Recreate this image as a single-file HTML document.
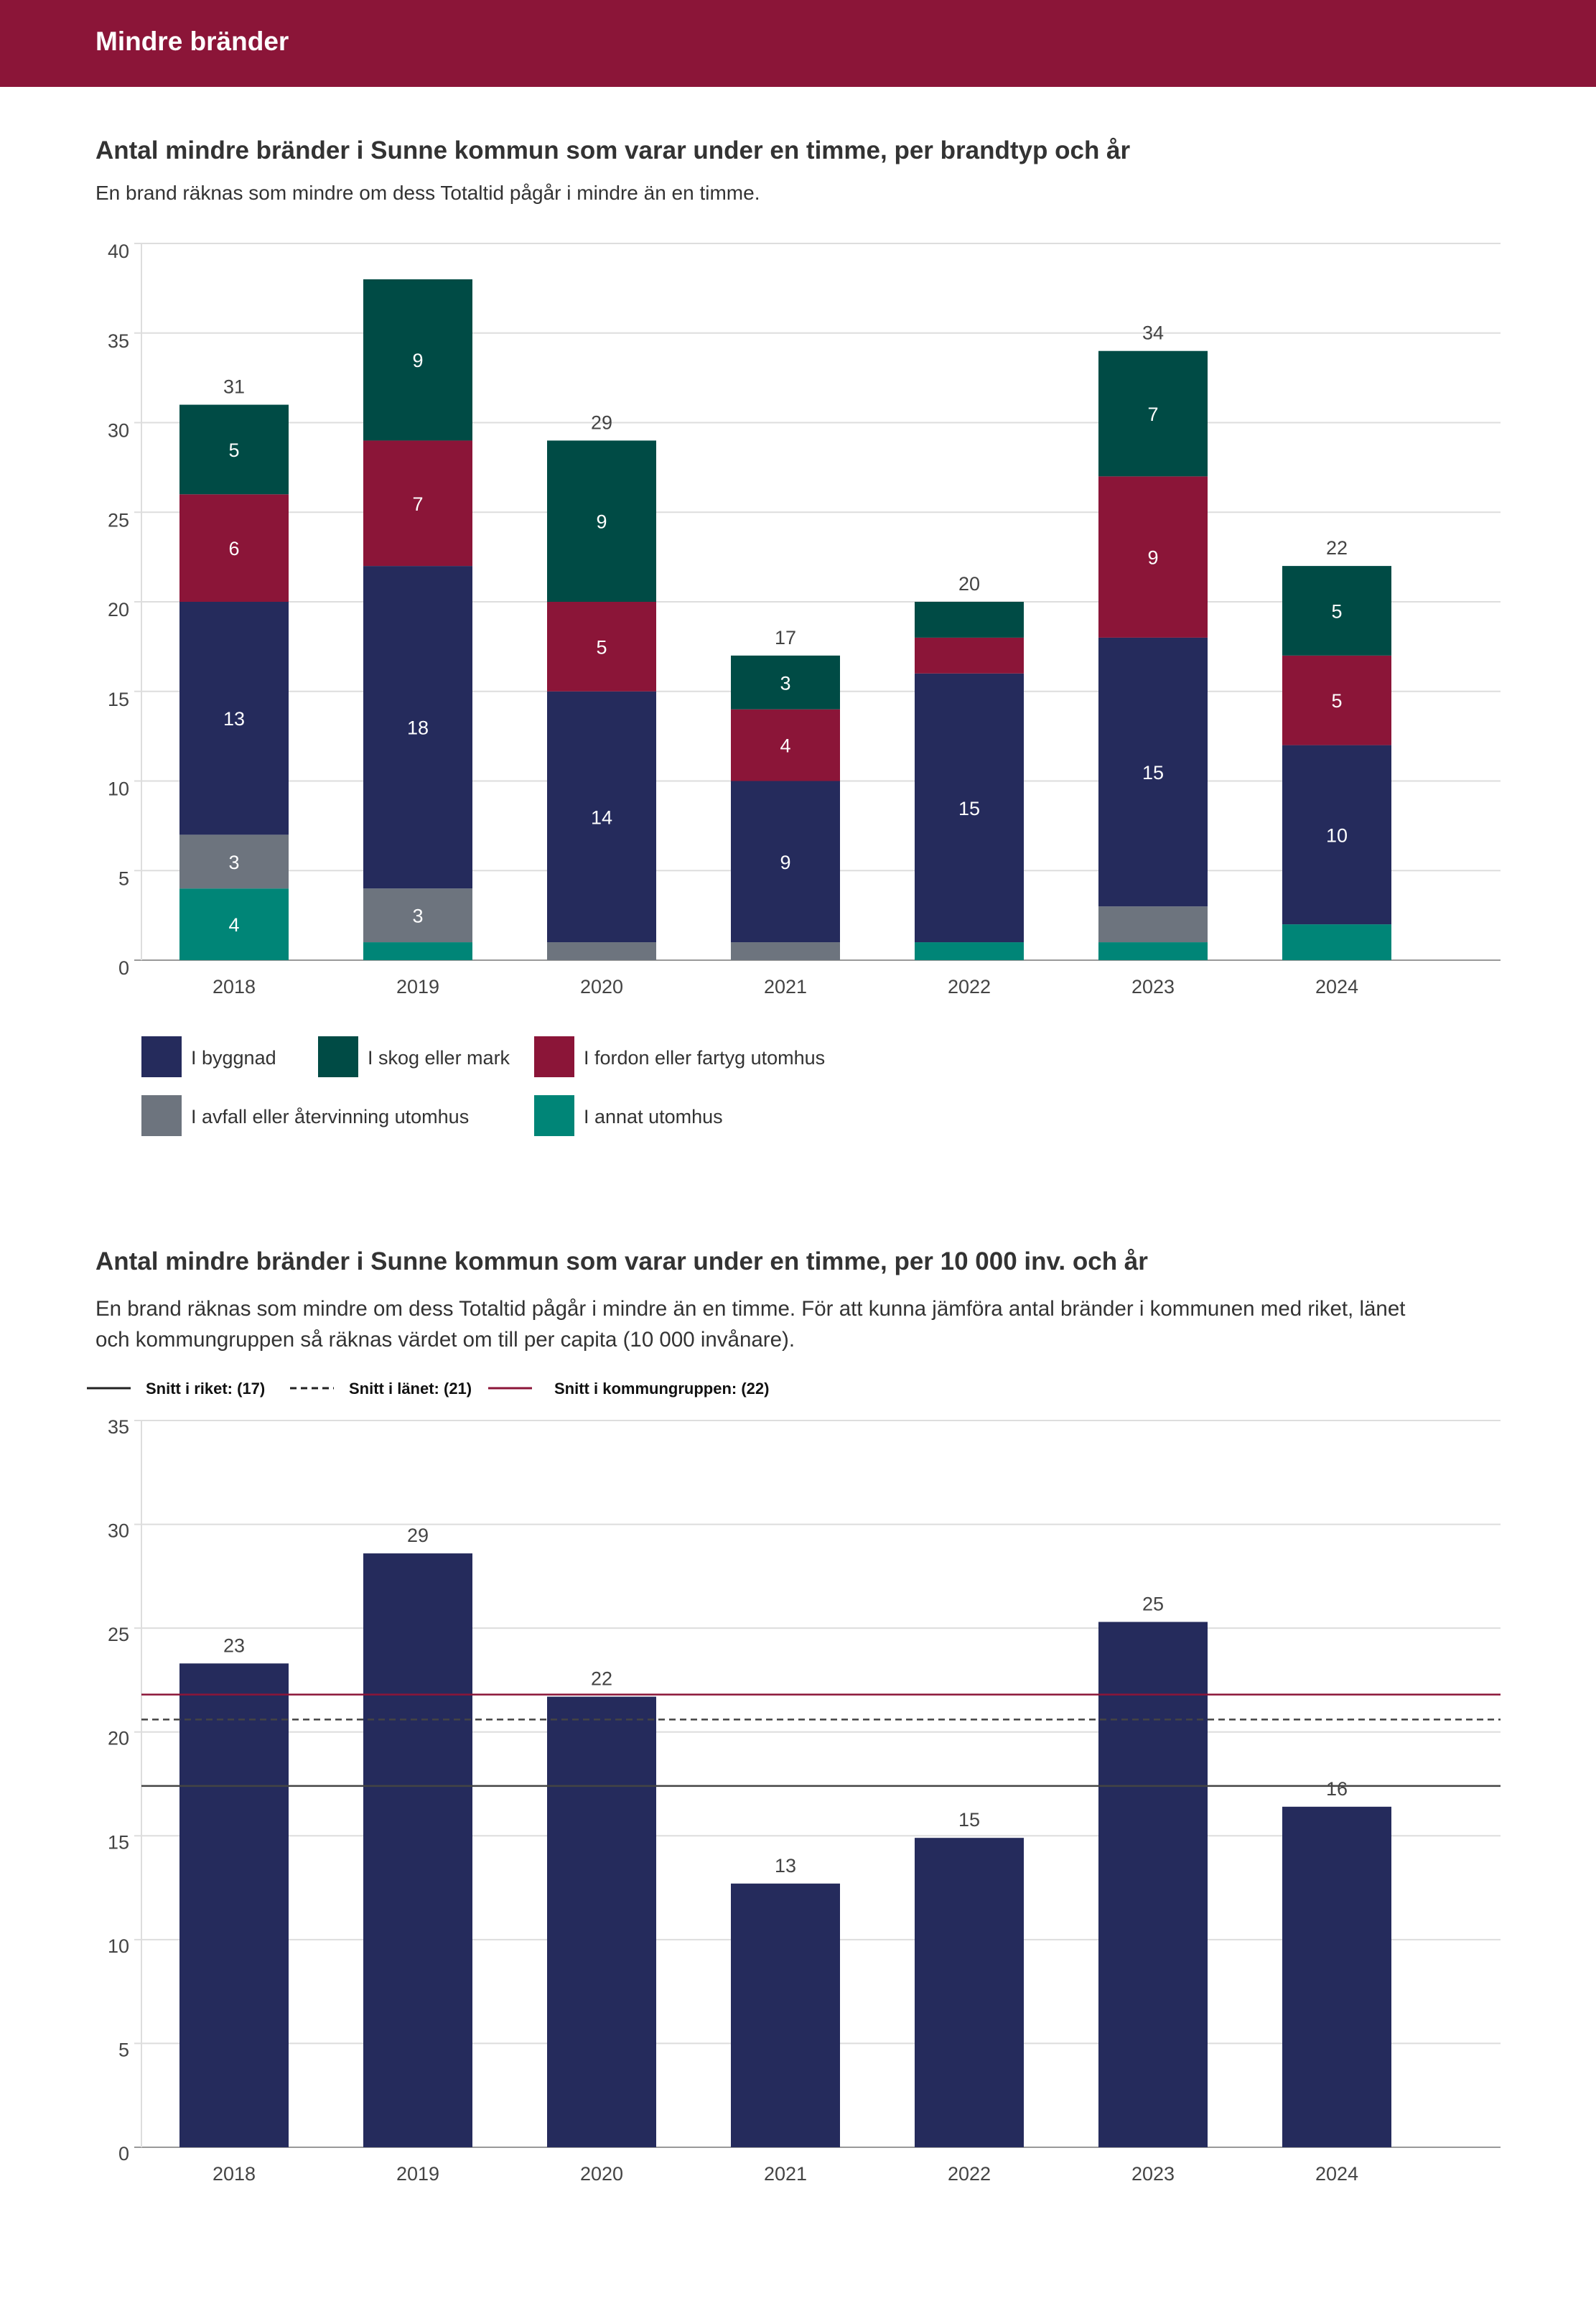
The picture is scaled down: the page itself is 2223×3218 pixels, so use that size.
<!DOCTYPE html>
<html><head><meta charset="utf-8">
<style>
html,body{margin:0;padding:0;background:#fff;}
body{width:2223px;height:3213px;overflow:hidden;font-family:"Liberation Sans",sans-serif;}
svg text{font-family:"Liberation Sans",sans-serif;}
</style></head>
<body>
<svg id="page" width="2223" height="3213" viewBox="0 0 2223 3213" xmlns="http://www.w3.org/2000/svg">
  <rect x="0" y="0" width="2223" height="121" fill="#8b1538"/>
  <text x="133" y="70" font-size="37" font-weight="bold" fill="#fff">Mindre bränder</text>

  <text x="133" y="221" font-size="35" font-weight="bold" fill="#333">Antal mindre bränder i Sunne kommun som varar under en timme, per brandtyp och år</text>
  <text x="133" y="278" font-size="28" fill="#333">En brand räknas som mindre om dess Totaltid pågår i mindre än en timme.</text>
  <g id="chart1"></g>
  <g id="legend1"></g>

  <text x="133" y="1768" font-size="35" font-weight="bold" fill="#333">Antal mindre bränder i Sunne kommun som varar under en timme, per 10 000 inv. och år</text>
  <text x="133" y="1832" font-size="29.5" fill="#333">En brand räknas som mindre om dess Totaltid pågår i mindre än en timme. För att kunna jämföra antal bränder i kommunen med riket, länet</text>
  <text x="133" y="1875" font-size="29.5" fill="#333">och kommungruppen så räknas värdet om till per capita (10 000 invånare).</text>
  <g id="legend2"></g>
  <g id="chart2"></g>
</svg>
<script>
const years = ["2018","2019","2020","2021","2022","2023","2024"];
const annat = [4,1,0,0,1,1,2];
const avfall = [3,3,1,1,0,2,0];
const byggnad = [13,18,14,9,15,15,10];
const fordon = [6,7,5,4,2,9,5];
const skog = [5,9,9,3,2,7,5];
const showTotal = [true,false,true,true,true,true,true];
const ticks1 = [0,5,10,15,20,25,30,35,40];

const perCapita = [23.3,28.6,21.7,12.7,14.9,25.3,16.4];
const perCapitaLabels = ["23","29","22","13","15","25","16"];
const ticks2 = [0,5,10,15,20,25,30,35];
const refNames = ["Snitt i riket: (17)","Snitt i länet: (21)","Snitt i kommungruppen: (22)"];
const refValues = [17.4,20.6,21.8];

const NS="http://www.w3.org/2000/svg";
function mk(parent,tag,attrs,text){const e=document.createElementNS(NS,tag);for(const k in attrs)e.setAttribute(k,attrs[k]);if(text!==undefined)e.textContent=text;parent.appendChild(e);return e;}

const plotL=197, plotR=2090;
function xCenter(i){return 326+i*256;}
const barW=152;

// Chart 1
const c1=document.getElementById('chart1');
const y1=v=>1337-v*(1337-339)/40;
ticks1.forEach(t=>{
  const g=mk(c1,'line',{x1:plotL-10,x2:plotR,y1:y1(t),y2:y1(t),stroke:t===0?'#999':'#ddd','stroke-width':2});
  
  
  const l=mk(c1,'text',{x:180,y:y1(t)+20,'font-size':27,fill:'#444','text-anchor':'end'},String(t));
  
  
});
const ax1=mk(c1,'line',{x1:plotL,x2:plotL,y1:339,y2:1337,stroke:'#ddd','stroke-width':2});


const series=[{d:annat,c:'#008577',n:'annat'},{d:avfall,c:'#6d747e',n:'avfall'},{d:byggnad,c:'#252b5c',n:'byggnad'},{d:fordon,c:'#8b1538',n:'fordon'},{d:skog,c:'#004b45',n:'skog'}];
years.forEach((yr,i)=>{
  let acc=0;
  series.forEach(s=>{
    const v=s.d[i];
    if(v>0){
      const r=mk(c1,'rect',{x:xCenter(i)-barW/2,y:y1(acc+v),width:barW,height:y1(acc)-y1(acc+v),fill:s.c});
      
      
      if(v>=3){
        const t=mk(c1,'text',{x:xCenter(i),y:(y1(acc)+y1(acc+v))/2+10,'font-size':27,fill:'#fff','text-anchor':'middle'},String(v));
        
        
      }
    }
    acc+=v;
  });
  if(showTotal[i]){
    const t=mk(c1,'text',{x:xCenter(i),y:y1(acc)-16,'font-size':27,fill:'#444','text-anchor':'middle'},String(acc));
    
    
  }
  const xl=mk(c1,'text',{x:xCenter(i),y:1383,'font-size':27,fill:'#444','text-anchor':'middle'},yr);
  
  
});

// Legend 1
const lg1=document.getElementById('legend1');
const legItems=[{n:'I byggnad',c:'#252b5c',x:197,y:1443},{n:'I skog eller mark',c:'#004b45',x:443,y:1443},{n:'I fordon eller fartyg utomhus',c:'#8b1538',x:744,y:1443},{n:'I avfall eller återvinning utomhus',c:'#6d747e',x:197,y:1525},{n:'I annat utomhus',c:'#008577',x:744,y:1525}];
legItems.forEach(it=>{
  const r=mk(lg1,'rect',{x:it.x,y:it.y,width:56,height:57,fill:it.c});
  
  
  const t=mk(lg1,'text',{x:it.x+69,y:it.y+39,'font-size':27,fill:'#333'},it.n);
  
  
});

// Legend 2
const lg2=document.getElementById('legend2');
const lg2Pos=[{x:121,tx:203,c:'#222',dash:''},{x:404,tx:486,c:'#222',dash:'9,6'},{x:680,tx:772,c:'#8b1538',dash:''}];
refNames.forEach((n,i)=>{
  const p=lg2Pos[i];
  const l=mk(lg2,'line',{x1:p.x,x2:p.x+61,y1:1933,y2:1933,stroke:p.c,'stroke-width':3,'stroke-dasharray':p.dash});
  
  
  const t=mk(lg2,'text',{x:p.tx,y:1941,'font-size':22,'font-weight':'bold',fill:'#111'},n);
  
  
});

// Chart 2
const c2=document.getElementById('chart2');
const y2=v=>2990-v*(2990-1978)/35;
ticks2.forEach(t=>{
  const g=mk(c2,'line',{x1:plotL-10,x2:plotR,y1:y2(t),y2:y2(t),stroke:t===0?'#999':'#ddd','stroke-width':2});
  
  
  const l=mk(c2,'text',{x:180,y:y2(t)+18,'font-size':27,fill:'#444','text-anchor':'end'},String(t));
  
  
});
const ax2=mk(c2,'line',{x1:plotL,x2:plotL,y1:1978,y2:2990,stroke:'#ddd','stroke-width':2});


years.forEach((yr,i)=>{
  const r=mk(c2,'rect',{x:xCenter(i)-barW/2,y:y2(perCapita[i]),width:barW,height:y2(0)-y2(perCapita[i]),fill:'#252b5c'});
  
  
  const t=mk(c2,'text',{x:xCenter(i),y:y2(perCapita[i])-16,'font-size':27,fill:'#444','text-anchor':'middle'},perCapitaLabels[i]);
  
  
  const xl=mk(c2,'text',{x:xCenter(i),y:3036,'font-size':27,fill:'#444','text-anchor':'middle'},yr);
  
  
});
const refStyle=[{c:'#444',dash:''},{c:'#444',dash:'9,6'},{c:'#8b1538',dash:''}];
refValues.forEach((v,i)=>{
  const l=mk(c2,'line',{x1:plotL,x2:plotR,y1:y2(v),y2:y2(v),stroke:refStyle[i].c,'stroke-width':2.5,'stroke-dasharray':refStyle[i].dash});
  
  
});
</script>
</body></html>
